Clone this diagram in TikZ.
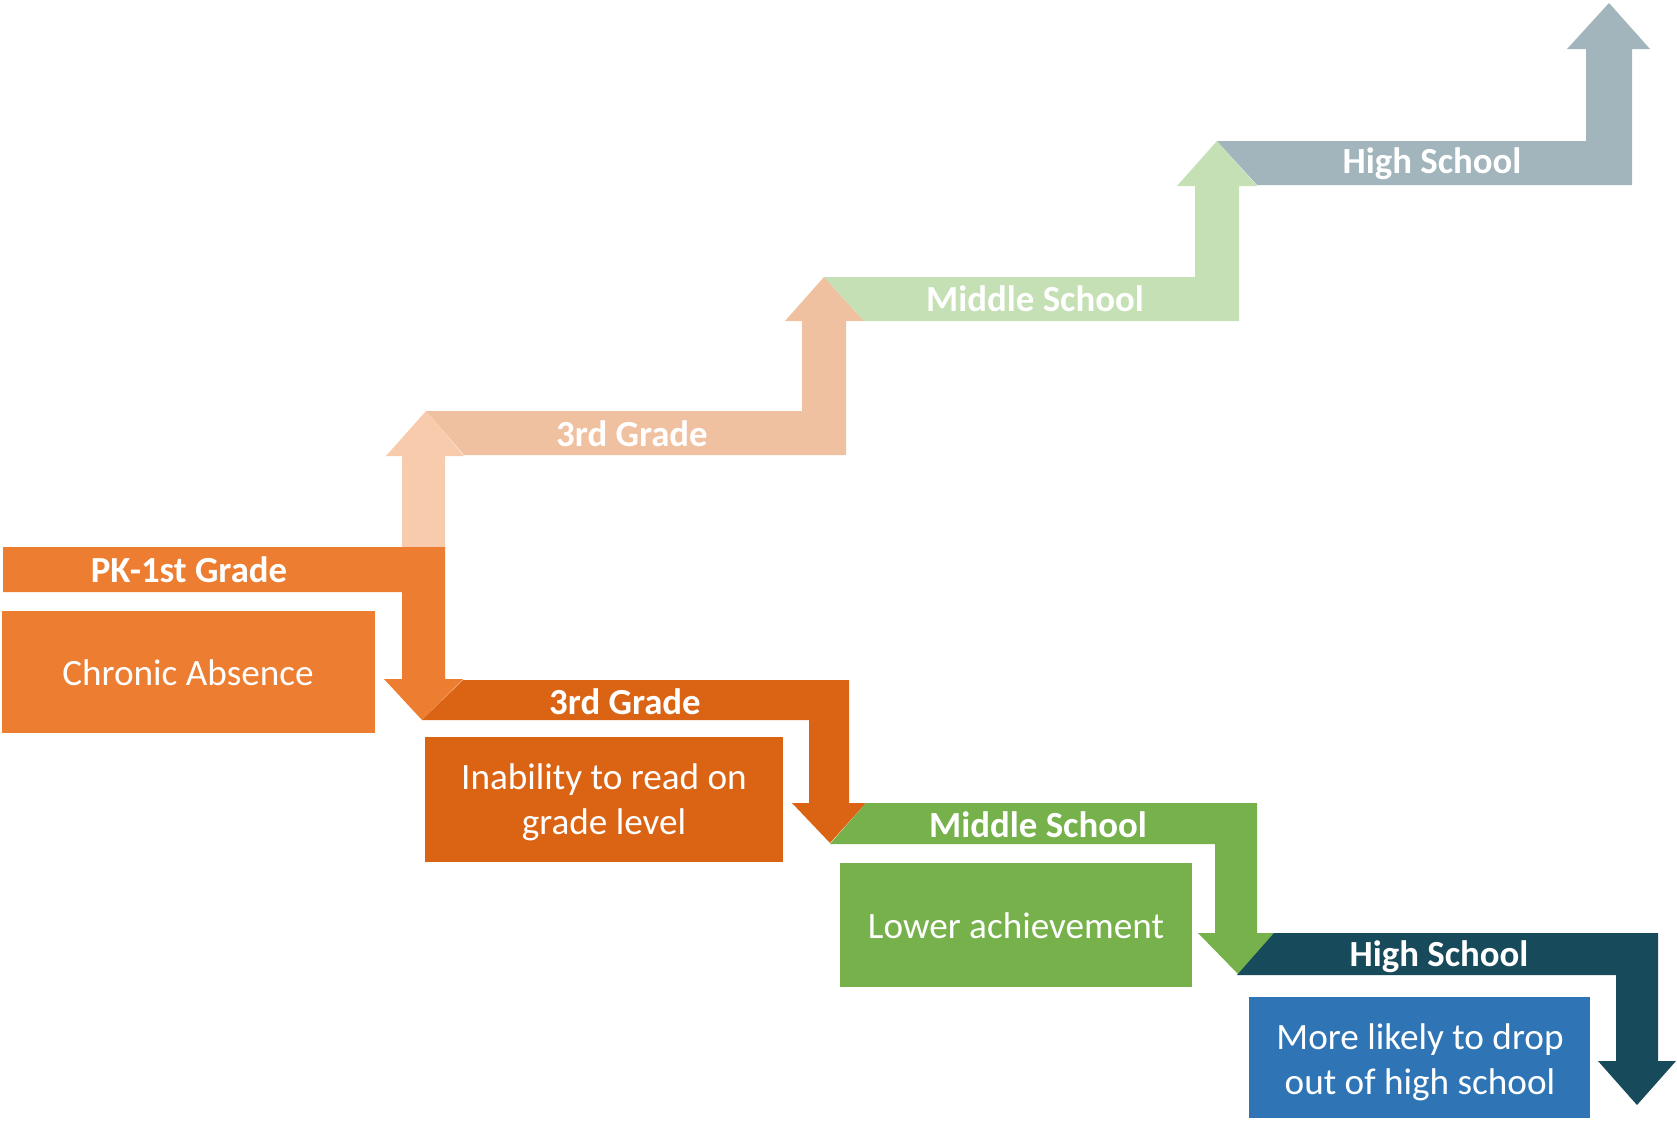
\documentclass[tikz,border=0pt]{standalone}
\usepackage{fontspec}
\setmainfont{Carlito}
\definecolor{pkorange}{HTML}{ED7D31}
\definecolor{pkpeach}{HTML}{F8CBAD}
\definecolor{gradepeach}{HTML}{F0C1A1}
\definecolor{gradeorange}{HTML}{DB6414}
\definecolor{mslight}{HTML}{C5E0B4}
\definecolor{msgreen}{HTML}{76B14B}
\definecolor{hsgrey}{HTML}{A2B5BC}
\definecolor{hsteal}{HTML}{174A5B}
\definecolor{dropblue}{HTML}{2F75B5}
\tikzset{
  stage/.style={font=\fontsize{18.4}{22}\selectfont\bfseries, text=white, anchor=base},
  effect/.style={font=\fontsize{18.6}{22.5}\selectfont, text=white, align=center}
}
\begin{document}
\begin{tikzpicture}[x=0.5pt,y=-0.5pt]
\useasboundingbox (0,0) rectangle (1677,1120);

% upper staircase
\fill[pkpeach] (402,547) -- (402,456) -- (386,456) -- (426,411) -- (464,456) -- (445,456) -- (445,547) -- cycle;
\fill[gradepeach] (426,411) -- (802,411) -- (802,321) -- (785,321) -- (824,277) -- (864,321) -- (846,321) -- (846,455) -- (464,455) -- cycle;
\fill[mslight] (824,277) -- (1195,277) -- (1195,186) -- (1177,186) -- (1217,141) -- (1257,186) -- (1239,186) -- (1239,321) -- (864,321) -- cycle;
\fill[hsgrey] (1217,141) -- (1586,141) -- (1586,49) -- (1567,49) -- (1609,3) -- (1650,49) -- (1632,49) -- (1632,185) -- (1257,185) -- cycle;

% lower staircase
\fill[pkorange] (3,547) -- (445,547) -- (445,679) -- (463,679) -- (422,720) -- (384,679) -- (402,679) -- (402,592) -- (3,592) -- cycle;
\fill[gradeorange] (463,680) -- (849,680) -- (849,803) -- (866,803) -- (830,843) -- (792,803) -- (809,803) -- (809,720) -- (422,720) -- cycle;
\fill[msgreen] (866,803) -- (1257,803) -- (1257,933) -- (1276,933) -- (1238,974) -- (1198,933) -- (1215,933) -- (1215,844) -- (830,844) -- cycle;
\fill[hsteal] (1274,933) -- (1658,933) -- (1658,1061) -- (1676,1061) -- (1637,1105) -- (1598,1061) -- (1616,1061) -- (1616,975) -- (1237,975) -- cycle;

% outcome boxes
\fill[pkorange] (2,611) rectangle (375,733);
\fill[gradeorange] (425,737) rectangle (783,862);
\fill[msgreen] (840,863) rectangle (1192,987);
\fill[dropblue] (1249,997) rectangle (1590,1118);

\node[stage] (pk) at (189,582) {PK-1st Grade};
\node[stage] (gradeup) at (632,446) {3rd Grade};
\node[stage] (msup) at (1035,311) {Middle School};
\node[stage] (hsup) at (1432,173) {High School};
\node[stage] (gradedown) at (625,714) {3rd Grade};
\node[stage] (msdown) at (1038,837) {Middle School};
\node[stage] (hsdown) at (1439,966) {High School};

\node[effect, anchor=base] (absence) at (188,685) {Chronic Absence};
\node[effect] (reading) at (604,802) {Inability to read on\\grade level};
\node[effect, anchor=base] (achieve) at (1016,938) {Lower achievement};
\node[effect] (dropout) at (1420,1062) {More likely to drop\\out of high school};
\end{tikzpicture}
\end{document}
